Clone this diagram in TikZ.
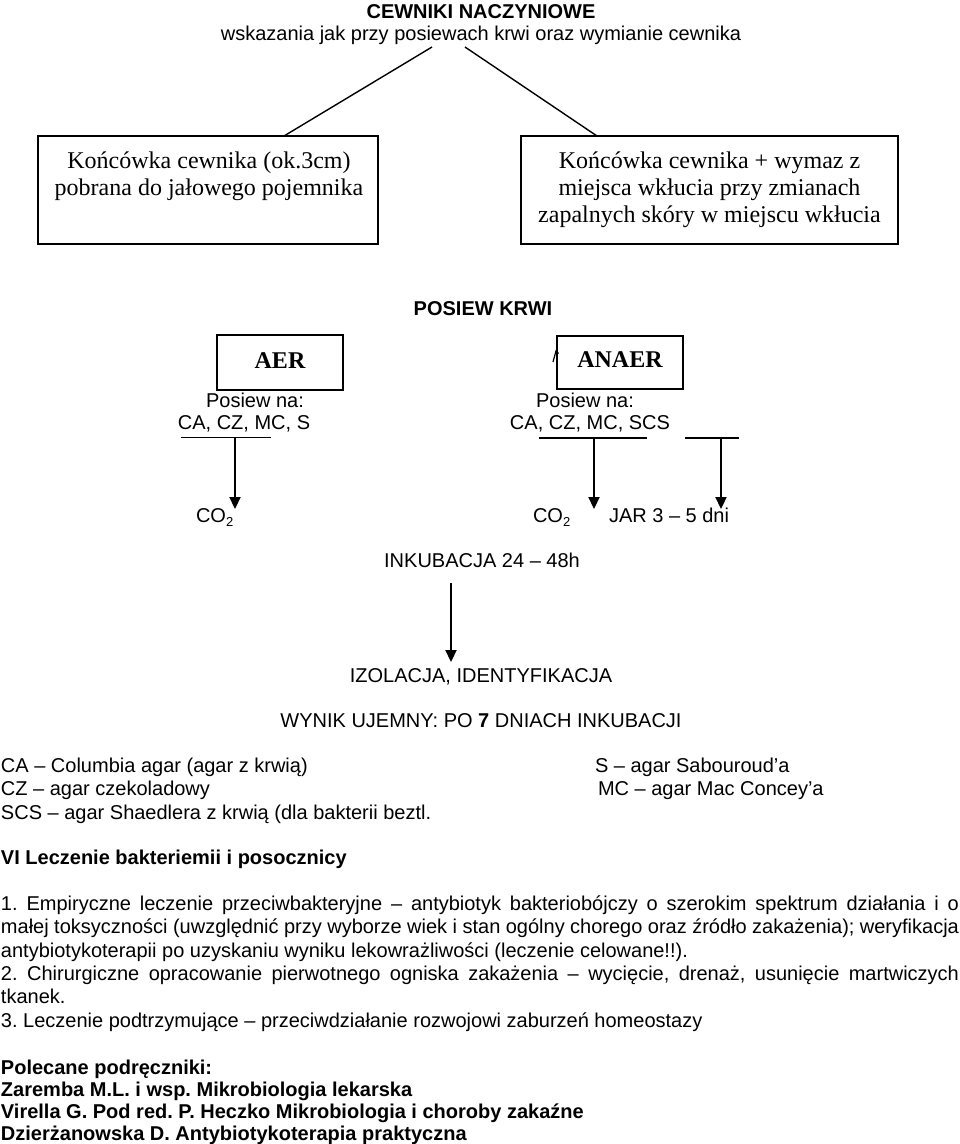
\documentclass[tikz,border=0pt]{standalone}
\usepackage{fontspec}
\setmainfont{Liberation Sans}
\newfontfamily\timesf{Liberation Serif}
\usetikzlibrary{arrows.meta}
\newcommand\cotwo{CO\raisebox{-0.38ex}{\fontsize{13}{13}\selectfont 2}}
\frenchspacing
\begin{document}
\frenchspacing
\begin{tikzpicture}[x=1pt,y=-1pt,
  every node/.style={inner sep=0pt,outer sep=0pt},
  txt/.style={anchor=base,font=\fontsize{20}{24}\selectfont},
  txtl/.style={anchor=base west,font=\fontsize{20}{24}\selectfont},
  btxt/.style={anchor=base,font=\fontsize{20}{24}\selectfont\bfseries},
  btxtl/.style={anchor=base west,font=\fontsize{20}{24}\selectfont\bfseries},
  serif/.style={anchor=base,font=\timesf\fontsize{24}{27}\selectfont},
  bserif/.style={anchor=base,font=\timesf\fontsize{24}{27}\selectfont\bfseries},
  box/.style={draw,line width=1.8pt},
  thinline/.style={line width=1.4pt},
  hline/.style={line width=1.8pt},
  arrowline/.style={line width=2.2pt,-{Triangle[length=12pt,width=11pt]}}
]
\useasboundingbox (0,0) rectangle (960,1144);
\fill[white] (0,0) rectangle (960,1144);

% title
\node[btxt] (title) at (481,18) {CEWNIKI NACZYNIOWE};
\node[txt] (subtitle) at (481,40) {wskazania jak przy posiewach krwi oraz wymianie cewnika};
\coordinate (tl) at (432,47);
\coordinate (tr) at (465,47);

% top boxes
\node[box,minimum width=340pt,minimum height=108pt] (lbox) at (208,190) {};
\node[box,minimum width=377pt,minimum height=108pt] (rbox) at (709.5,190) {};
\node[serif] (l1) at (209,168) {Końcówka cewnika (ok.3cm)};
\node[serif] (l2) at (209,195) {pobrana do jałowego pojemnika};
\node[serif] (r1) at (709.5,168) {Końcówka cewnika + wymaz z};
\node[serif] (r2) at (709.5,195) {miejsca wkłucia przy zmianach};
\node[serif] (r3) at (709.5,222) {zapalnych skóry w miejscu wkłucia};
\draw[thinline] (tl) -- ([xshift=76pt]lbox.north);
\draw[thinline] (tr) -- ([xshift=-112.5pt]rbox.north);

% posiew krwi
\node[btxt] (posiew) at (483,315) {POSIEW KRWI};
\node[box,minimum width=126pt,minimum height=55pt] (aer) at (280,362.5) {};
\node[bserif] (aert) at (280,368) {AER};
\node[box,minimum width=126pt,minimum height=53pt] (anaer) at (620,362.5) {};
\node[bserif] (anaert) at (620,367) {ANAER};
\draw[line width=1.2pt] (553,362) -- (556,351) -- (558.5,353.5);

\node[txt] (pa1) at (255,407) {Posiew na:};
\node[txt] (pa2) at (244,429) {CA, CZ, MC, S};
\node[txt] (pb1) at (585,407) {Posiew na:};
\node[txt] (pb2) at (590,429) {CA, CZ, MC, SCS};

\coordinate (ha1) at (181,437.5);
\coordinate (ha2) at (271,437.5);
\coordinate (hb1) at (539,438);
\coordinate (hb2) at (647,438);
\coordinate (hc1) at (685,438);
\coordinate (hc2) at (739,438);
\draw[hline] (ha1) -- (ha2);
\draw[hline] (hb1) -- (hb2);
\draw[hline] (hc1) -- (hc2);
\coordinate (va) at (235,437.5);
\coordinate (vb) at (594,438);
\coordinate (vc) at (721,438);
\coordinate (ta) at (235,509);
\coordinate (tb) at (594,509);
\coordinate (tc) at (721,509);
\draw[arrowline] (va) -- (ta);
\draw[arrowline] (vb) -- (tb);
\draw[arrowline] (vc) -- (tc);

\node[txtl] (co1) at (196,522) {\cotwo};
\node[txtl] (co2) at (533,522) {\cotwo};
\node[txtl] (jar) at (609,522) {JAR 3 – 5 dni};

\node[txt] (inkub) at (482,567) {INKUBACJA 24 – 48h};
\coordinate (ia) at (451,583);
\coordinate (ib) at (451,662);
\draw[arrowline] (ia) -- (ib);

\node[txt] (izol) at (481,682) {IZOLACJA, IDENTYFIKACJA};
\node[txt] (wynik) at (481,727) {WYNIK UJEMNY: PO \textbf{7} DNIACH INKUBACJI};

% legend
\node[txtl] (lg1) at (1,772) {CA – Columbia agar (agar z krwią)};
\node[txtl] (lg2) at (1,795.5) {CZ – agar czekoladowy};
\node[txtl] (lg3) at (1,819) {SCS – agar Shaedlera z krwią (dla bakterii beztl.};
\node[txtl] (lg4) at (595,772) {S – agar Sabouroud’a};
\node[txtl] (lg5) at (598,795.5) {MC – agar Mac Concey’a};

\node[btxtl] (vi) at (1,864) {VI Leczenie bakteriemii i posocznicy};

% paragraph
\node[txtl] (p1) at (1,910.5) {\makebox[958pt][s]{1. Empiryczne leczenie przeciwbakteryjne – antybiotyk bakteriobójczy o szerokim spektrum działania i o}};
\node[txtl] (p2) at (1,933.8) {\makebox[958pt][s]{małej toksyczności (uwzględnić przy wyborze wiek i stan ogólny chorego oraz źródło zakażenia); weryfikacja}};
\node[txtl] (p3) at (1,957.1) {antybiotykoterapii po uzyskaniu wyniku lekowrażliwości (leczenie celowane!!).};
\node[txtl] (p4) at (1,980.4) {\makebox[958pt][s]{2. Chirurgiczne opracowanie pierwotnego ogniska zakażenia – wycięcie, drenaż, usunięcie martwiczych}};
\node[txtl] (p5) at (1,1003.7) {tkanek.};
\node[txtl] (p6) at (1,1027) {3. Leczenie podtrzymujące – przeciwdziałanie rozwojowi zaburzeń homeostazy};

% books
\node[btxtl] (b0) at (1,1074) {Polecane podręczniki:};
\node[btxtl] (b1) at (1,1096.5) {Zaremba M.L. i wsp. Mikrobiologia lekarska};
\node[btxtl] (b2) at (1,1118.5) {Virella G. Pod red. P. Heczko Mikrobiologia i choroby zakaźne};
\node[btxtl] (b3) at (1,1140) {Dzierżanowska D. Antybiotykoterapia praktyczna};
\end{tikzpicture}
\end{document}
